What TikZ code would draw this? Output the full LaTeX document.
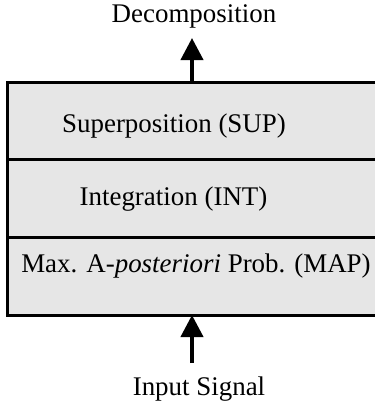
\documentclass[tikz,border=0pt]{standalone}
\usepackage{fontspec}
\setmainfont{Liberation Serif}
\usetikzlibrary{arrows.meta}
\definecolor{layerfill}{RGB}{230,230,230}

\tikzset{every picture/.style={line width=0.75pt}}
\tikzset{
  layer/.style={fill=layerfill, inner sep=0pt, outer sep=0pt,
                minimum width=300pt, minimum height=58.5pt},
  rule/.style={line width=2.25pt},
  caption/.style={anchor=base, inner sep=0pt, font=\fontsize{20.2}{24}\selectfont},
  sig/.style={line width=3pt, -{Triangle[length=16.5pt,width=16.5pt]}}
}

\begin{document}
\begin{tikzpicture}[x=0.75pt,y=0.75pt,yscale=-1,xscale=1]
\useasboundingbox (0,0) rectangle (375,404);

% Layers
\node [layer] (sup) at (207,121) {};
\node [layer] (int) at (207,198.5) {};
\node [layer] (map) at (207,276) {};
% Layer borders (open to the right)
\draw [rule] (sup.north east) -- (sup.north west) -- (map.south west) -- (map.south east);
\draw [rule] (int.north west) -- (int.north east);
\draw [rule] (int.south west) -- (int.south east);

% Text Node
\node [caption] (supTxt) at (174,132) {Superposition (SUP)};
\node [caption] (intTxt) at (173.5,205) {Integration (INT)};
\node [caption] (mapTxt) at (196,272) {Max. A-\textit{posteriori} Prob. (MAP)};
\node [caption] (decomp) at (194,22) {Decomposition};
\node [caption] (signal) at (199,395) {Input Signal};

% Connection
\coordinate (out) at (192,38);
\coordinate (in) at (192,363);
\draw [sig] (sup.north -| out) -- (out);
\draw [sig] (in) -- (in |- map.south);

\end{tikzpicture}
\end{document}
